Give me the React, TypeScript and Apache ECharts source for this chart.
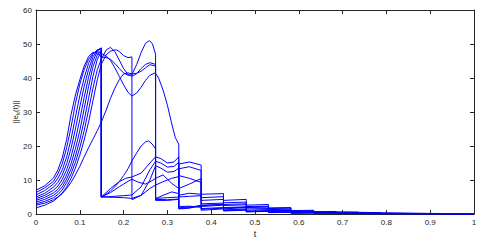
import React, { useEffect, useRef } from "react";
import * as echarts from "echarts";

const xTicks = [0, 1, 0.1];
const yTicks = [0, 60, 10];
const xName = "t";

const a1 = [[0,7],[0.02,8.3],[0.04,10.6],[0.05,13],[0.06,16.5],[0.07,22],[0.08,29.2],[0.09,35],[0.1,39.5],[0.11,43.5],[0.12,46.3],[0.13,47.6],[0.14,47.3],[0.149,46.2],
[0.16,46],[0.17,45.5],[0.18,44.3],[0.19,42.8],[0.2,41.5],[0.21,40.8],[0.219,41],[0.23,44],[0.24,47.5],[0.25,50.2],[0.259,51],[0.266,50],[0.273,47],
[0.273,4.3],[0.3,4.2],[0.326,4.4],
[0.326,14.7],[0.35,15.3],[0.377,14.4],
[0.377,1.1],[0.428,1.5],[0.428,1.6],[0.48,1.9],[0.48,1.9],[0.531,2.1],[0.531,0.5],[0.582,0.6],[0.582,0.6],[0.634,0.7],[0.634,0.7],[0.685,0.75],[0.685,0.5],[0.736,0.5],[0.736,0.4],[0.787,0.4],[0.787,0.1],[1,0.05]];

const a2 = [[0,6.3],[0.02,7.7],[0.04,9.6],[0.05,11.8],[0.06,14.8],[0.07,19.5],[0.08,25.5],[0.09,32.5],[0.1,38.2],[0.11,42.5],[0.12,45.5],[0.13,47.3],[0.14,47.8],[0.149,47.2],[0.16,46.5],[0.17,45.2],[0.18,43],[0.19,40.5],[0.2,38],[0.21,35.8],[0.219,34.7],[0.23,35.6],[0.24,37.3],[0.25,39.3],[0.26,40.8],[0.272,41.5],[0.28,40],[0.29,36.5],[0.3,32],[0.31,26.5],[0.318,22.5],[0.326,20.5],
[0.326,1.6],[0.35,1.9],[0.377,2.2],[0.428,2.6],[0.428,1.0],[0.48,1.3],[0.48,0.7],[0.531,0.9],[0.582,1.0],[0.582,0.3],[0.634,0.35],[0.685,0.35],[0.736,0.4],[0.736,0.15],[0.787,0.15],[0.787,0.1],[1,0.03]];

const a3 = [[0,5.6],[0.02,6.9],[0.04,8.8],[0.05,10.5],[0.06,13],[0.07,16.8],[0.08,22],[0.09,28.5],[0.1,34.8],[0.11,40],[0.12,44.3],[0.13,47],[0.14,48.3],[0.149,48.6],
[0.149,5],[0.16,5.8],[0.17,6.8],[0.18,8],[0.19,9.5],[0.2,11.3],[0.21,13.3],[0.219,15.6],[0.23,18],[0.24,20],[0.25,21.2],[0.257,21.5],[0.265,20.6],[0.273,19.2],
[0.273,4.6],[0.3,4.8],[0.326,5.0],
[0.326,13.3],[0.35,13.9],[0.377,12.8],
[0.377,5.8],[0.428,6.0],[0.428,1.2],[0.48,1.5],[0.531,1.6],[0.582,1.7],[0.582,1.0],[0.634,1.1],[0.634,0.3],[0.685,0.3],[0.736,0.3],[0.787,0.3],[0.787,0.15],[1,0.05]];

const a4 = [[0,5],[0.02,6.1],[0.04,7.9],[0.05,9.3],[0.06,11.5],[0.07,14.8],[0.08,19.3],[0.09,25],[0.1,31.5],[0.11,37.5],[0.12,42.5],[0.13,46.2],[0.14,48.2],[0.149,48.8],
[0.149,5],[0.17,7.5],[0.19,9.5],[0.205,10.5],[0.219,10.9],[0.24,12],[0.26,15],[0.273,16.8],[0.285,16.3],[0.3,15],[0.315,15.3],[0.326,16.8],
[0.326,11.3],[0.35,10.5],[0.377,9.3],
[0.377,4.8],[0.428,5.1],[0.428,4.0],[0.48,4.3],[0.48,0.7],[0.531,0.8],[0.582,0.9],[0.634,0.9],[0.634,0.6],[0.685,0.65],[0.685,0.2],[0.736,0.2],[0.787,0.2],[0.787,0.1],[1,0.04]];

const a5 = [[0,4.5],[0.02,5.5],[0.04,7],[0.05,8.2],[0.06,10.2],[0.07,13],[0.08,16.8],[0.09,21.8],[0.1,27.8],[0.11,34.3],[0.12,40.2],[0.13,45],[0.14,47.8],[0.149,48.9],
[0.149,5],[0.17,6.3],[0.19,8],[0.21,9.6],[0.219,10.2],[0.235,9.3],[0.25,8.8],[0.265,9.8],[0.273,10.5],[0.29,11.5],[0.31,9],[0.326,7.5],
[0.326,7.3],[0.35,8.8],[0.377,10.4],
[0.377,4.0],[0.428,4.3],[0.428,3.3],[0.48,3.5],[0.48,2.6],[0.531,2.8],[0.531,1.8],[0.582,1.9],[0.582,0.4],[0.634,0.5],[0.685,0.5],[0.685,0.45],[0.736,0.45],[0.736,0.1],[0.787,0.1],[1,0.03]];

const a6 = [[0,4],[0.02,4.9],[0.04,6.2],[0.05,7.3],[0.06,9],[0.07,11.5],[0.08,14.8],[0.09,19.2],[0.1,24.5],[0.11,31],[0.12,37.5],[0.13,43.3],[0.14,46.8],[0.149,48.3],
[0.149,5],[0.18,5.2],[0.2,5.4],[0.219,5.6],[0.24,8],[0.26,13],[0.273,15.5],[0.285,15],[0.3,13.8],[0.315,14],[0.326,15.2],
[0.326,5.5],[0.35,6.1],[0.377,5.8],
[0.377,3.0],[0.428,3.2],[0.428,2.5],[0.48,2.7],[0.48,2.2],[0.531,2.3],[0.531,0.4],[0.582,0.5],[0.634,0.55],[0.634,0.2],[0.685,0.2],[0.736,0.2],[0.787,0.2],[0.787,0.08],[1,0.03]];

const a7 = [[0,3.5],[0.02,4.3],[0.04,5.5],[0.05,6.5],[0.06,8],[0.07,10.3],[0.08,13.2],[0.09,17],[0.1,21.8],[0.11,27.5],[0.12,34],[0.13,40.5],[0.14,45.5],[0.149,47.8],
[0.149,5],[0.18,4.9],[0.2,4.8],[0.219,4.6],[0.24,5.5],[0.26,7.5],[0.273,8.5],[0.29,9.5],[0.31,10.5],[0.326,11],
[0.326,5.0],[0.35,5.2],[0.377,5.4],
[0.377,1.6],[0.428,1.9],[0.48,2.1],[0.48,0.6],[0.531,0.8],[0.582,0.9],[0.582,0.25],[0.634,0.3],[0.685,0.35],[0.736,0.35],[0.787,0.35],[0.787,0.1],[1,0.04]];

const a8 = [[0,3],[0.02,3.7],[0.04,4.8],[0.05,5.7],[0.06,7.1],[0.07,9.2],[0.08,11.8],[0.09,15.2],[0.1,19.5],[0.11,24.5],[0.12,30.6],[0.13,37],[0.14,42.5],[0.149,45.5],[0.16,48.2],[0.17,49],[0.18,47.8],[0.19,45.3],[0.2,42.8],[0.21,41],[0.219,40.5],[0.23,41.3],[0.24,42.8],[0.25,44],[0.26,44.5],[0.273,44],
[0.273,4.5],[0.29,5.5],[0.31,6.5],[0.326,6.0],
[0.326,1.8],[0.35,2.1],[0.377,2.4],
[0.428,2.9],[0.428,0.9],[0.48,1.1],[0.531,1.3],[0.582,1.4],[0.582,0.8],[0.634,0.85],[0.634,0.45],[0.685,0.45],[0.685,0.15],[0.736,0.15],[0.787,0.15],[0.787,0.05],[1,0.02]];

const a9 = [[0,2.6],[0.02,3.2],[0.04,4.2],[0.05,5],[0.06,6.2],[0.07,8],[0.08,10.5],[0.09,13.5],[0.1,17.3],[0.11,21.8],[0.12,27],[0.13,33.3],[0.14,39.5],[0.149,44],[0.16,46.8],[0.17,47.9],[0.183,48.3],[0.19,47.8],[0.2,46.6],[0.21,46],[0.219,46.2],
[0.219,4.2],[0.24,5.5],[0.26,10],[0.273,14.2],[0.285,13.5],[0.3,12.3],[0.315,12.5],[0.326,13.5],
[0.326,2.2],[0.35,2.3],[0.377,2.0],
[0.377,1.4],[0.428,1.7],[0.48,2.0],[0.531,2.1],[0.531,0.5],[0.582,0.6],[0.634,0.6],[0.685,0.6],[0.685,0.5],[0.736,0.55],[0.736,0.25],[0.787,0.25],[0.787,0.12],[1,0.05]];

const a10 = [[0,1.8],[0.02,2.6],[0.04,3.8],[0.06,6],[0.07,7.5],[0.08,9.3],[0.09,11.5],[0.1,14],[0.11,16.8],[0.12,19.5],[0.13,22],[0.14,24.5],[0.149,27],[0.16,30.5],[0.17,34],[0.18,37],[0.19,39.5],[0.2,41.2],[0.21,41.5],[0.22,41.2],[0.23,41.4],[0.24,42],[0.25,43],[0.26,43.9],[0.273,43.5],
[0.273,4.0],[0.3,4.0],[0.326,4.3],
[0.326,1.5],[0.35,1.7],[0.377,2.6],
[0.428,2.8],[0.428,2.9],[0.48,3.0],[0.48,0.8],[0.531,1.0],[0.582,1.1],[0.582,0.3],[0.634,0.35],[0.685,0.35],[0.685,0.25],[0.736,0.25],[0.736,0.1],[0.787,0.1],[1,0.03]];

const agents = [a1, a2, a3, a4, a5, a6, a7, a8, a9, a10];

const AXIS = "#262626";
const FONT = "Liberation Sans";

export default function App() {
  const ref = useRef<HTMLDivElement>(null);
  useEffect(() => {
    if (!ref.current) return;
    const chart = echarts.init(ref.current, null, { renderer: "svg" });
    const axisCommon = {
      axisLine: { show: true, onZero: false, lineStyle: { color: AXIS, width: 1 } },
      axisTick: { show: true, inside: true, length: 4, lineStyle: { color: AXIS } },
      splitLine: { show: false },
    };
    chart.setOption({
      animation: false,
      backgroundColor: "#ffffff",
      grid: { left: 36, right: 15, top: 10, bottom: 27, containLabel: false, outerBoundsMode: "none" },
      xAxis: [
        {
          type: "value", min: xTicks[0], max: xTicks[1], interval: xTicks[2],
          ...axisCommon,
          axisLabel: { color: AXIS, fontSize: 8, fontFamily: FONT, margin: 4 },
          name: xName, nameLocation: "middle", nameGap: 15, nameMoveOverlap: false,
          nameTextStyle: { color: AXIS, fontSize: 9, fontFamily: FONT },
        },
        {
          type: "value", position: "top", min: xTicks[0], max: xTicks[1], interval: xTicks[2],
          ...axisCommon, axisLabel: { show: false },
        },
      ],
      yAxis: [
        {
          type: "value", min: yTicks[0], max: yTicks[1], interval: yTicks[2],
          ...axisCommon,
          axisLabel: { color: AXIS, fontSize: 8, fontFamily: FONT, margin: 4 },
          name: "{a|||e}{sub|k}{a|(t)||}", nameLocation: "middle", nameGap: 15, nameMoveOverlap: false,
          nameTextStyle: {
            color: AXIS, fontSize: 8, fontFamily: FONT,
            rich: {
              a: { fontSize: 8, fontFamily: FONT, color: AXIS, lineHeight: 12 },
              sub: { fontSize: 6, fontFamily: FONT, color: AXIS, lineHeight: 6, verticalAlign: "bottom" },
            },
          },
        },
        {
          type: "value", position: "right", min: yTicks[0], max: yTicks[1], interval: yTicks[2],
          ...axisCommon, axisLabel: { show: false },
        },
      ],
      series: agents.map((d, i) => ({
        type: "line",
        name: "agent" + (i + 1),
        data: d,
        xAxisIndex: 0,
        yAxisIndex: 0,
        symbol: "none",
        showSymbol: false,
        smooth: false,
        silent: true,
        lineStyle: { color: "#0000ff", width: 1 },
      })),
    });
    return () => chart.dispose();
  }, []);
  return (
    <div
      ref={ref}
      style={{ position: "fixed", left: 0, top: 0, width: 489, height: 241, background: "#fff" }}
    />
  );
}
